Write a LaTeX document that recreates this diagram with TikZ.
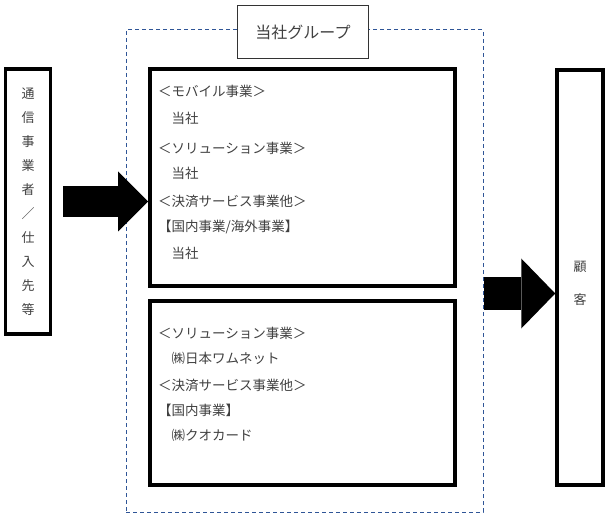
\documentclass[tikz,border=0pt]{standalone}
\usepackage{fontspec}
\newfontfamily\jp{Noto Sans CJK JP}
\usepackage{tikz}
\usetikzlibrary{arrows.meta, calc}
\definecolor{groupblue}{HTML}{2F5597}
\definecolor{textgray}{HTML}{404040}

\begin{document}
\begin{tikzpicture}[
    x=1pt, y=-1pt,
    box/.style={rectangle, draw, line width=4pt, inner sep=0pt, minimum width=305pt},
    sidebox/.style={rectangle, draw, line width=3.5pt, inner sep=0pt, align=center, text=textgray},
    group/.style={rectangle, draw=groupblue, dash pattern=on 4pt off 3pt, line width=1pt, minimum width=357pt, minimum height=482pt},
    title/.style={rectangle, draw=black!80, line width=1pt, fill=white, minimum width=131pt, minimum height=53pt, font=\jp\fontsize{16}{16}\selectfont, text=textgray},
    item/.style={anchor=west, inner sep=0pt, font=\jp\fontsize{13.5}{13.5}\selectfont, text=textgray, text height=0.88em, text depth=0.12em}
]
\useasboundingbox (0,0) rectangle (607,518);

% Supplier
\node[sidebox, minimum width=45pt, minimum height=265pt, font=\jp\fontsize{13}{24}\selectfont] (supplier) at (28,201.5) {通\\信\\事\\業\\者\\／\\仕\\入\\先\\等};

% Group
\node[group] (group) at (304.5,271) {};
\node[title] (title) at (303,32) {当社グループ};

\node[box, minimum height=217pt] (upper) at (302.5,177.5) {};
\node[item] (mobile) at (158,93) {＜モバイル事業＞};
\node[item] (mobileco) at (158,120) {　当社};
\node[item] (solution) at (158,150) {＜ソリューション事業＞};
\node[item] (solutionco) at (158,175) {　当社};
\node[item] (payment) at (158,203) {＜決済サービス事業他＞};
\node[item] (paymentarea) at (158,228) {【国内事業/海外事業】};
\node[item] (paymentco) at (158,255) {　当社};

\node[box, minimum height=184pt] (lower) at (302.5,393) {};
\node[item] (solution2) at (158,335) {＜ソリューション事業＞};
\node[item] (solutionco2) at (158,360) {　㈱日本ワムネット};
\node[item] (payment2) at (158,387) {＜決済サービス事業他＞};
\node[item] (paymentarea2) at (158,412) {【国内事業】};
\node[item] (paymentco2) at (158,437) {　㈱クオカード};

% Customer
\node[sidebox, minimum width=46pt, minimum height=415pt] (customer) at (580,277.5) {};
\node[inner sep=0pt, align=center, text=textgray, font=\jp\fontsize{13}{33}\selectfont] (customertext) at ($(customer)+(0,6)$) {顧\\客};

% Flows
\draw[line width=31pt, shorten <=11pt, -{Triangle[length=30pt, width=60pt, line width=0pt]}] (supplier.east) -- (supplier.east -| upper.west);
\coordinate (gap) at ($(upper.south)!0.5!(lower.north)$);
\draw[line width=33pt, -{Triangle[length=34pt, width=70pt, line width=0pt]}] (gap -| group.east) -- (gap -| customer.west);

\end{tikzpicture}
\end{document}
